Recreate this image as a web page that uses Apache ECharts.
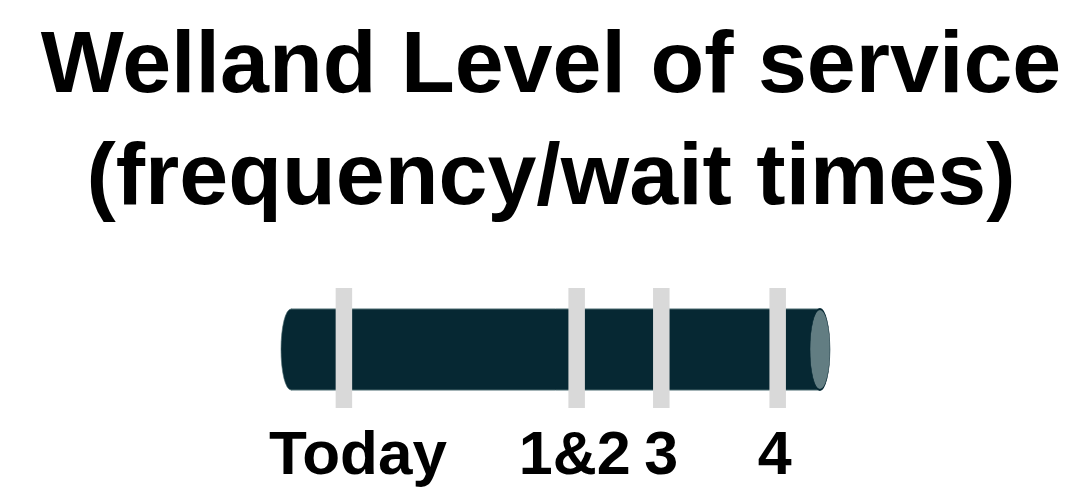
<!DOCTYPE html>
<html>
<head>
<meta charset="utf-8">
<script src="https://cdn.jsdelivr.net/npm/echarts@6/dist/echarts.min.js"></script>
<style>
  html, body { margin: 0; padding: 0; background: #ffffff; }
  #chart { width: 1068px; height: 493px; }
</style>
</head>
<body>
<div id="chart"></div>
<script>
// ---- data ----
const titleLines = ['Welland Level of service', '(frequency/wait times)'];
const phases = ['Today', '1&2', '3', '4'];
const phasePositions = [10, 54, 70, 92];   // position along the timeline (0 = start, 100 = end)
const timelineRange = [0, 100];

// ---- style ----
const FONT = '"Liberation Sans", Arial, sans-serif';
const BAR_COLOR = '#062833';
const CAP_COLOR = '#627d82';
const MARK_COLOR = '#d9d9d9';
const labelShift = { 'Today': 14, '1&2': -2, '3': 0, '4': -3 };
const labelSize = { 'Today': 62, '1&2': 61, '3': 61, '4': 61 };

const chart = echarts.init(document.getElementById('chart'), null, { renderer: 'canvas' });

const option = {
  backgroundColor: '#ffffff',
  animation: false,
  title: {
    text: titleLines.join('\n'),
    left: 546,
    top: 7,
    textAlign: 'center',
    textStyle: {
      fontFamily: FONT,
      fontWeight: 'bold',
      fontSize: 88,
      lineHeight: 112,
      color: '#000000'
    }
  },
  grid: { left: 291, right: 248, top: 288, bottom: 85 },
  xAxis: { type: 'value', min: timelineRange[0], max: timelineRange[1], show: false },
  yAxis: { type: 'value', min: 0, max: 1, show: false },
  series: [
    {
      type: 'custom',
      name: 'timeline',
      silent: true,
      data: [[timelineRange[0], timelineRange[1]]],
      renderItem: function (params, api) {
        const p0 = api.coord([api.value(0), 0.5]);
        const p1 = api.coord([api.value(1), 0.5]);
        const cy = p0[1] + 1.5;
        const hh = 40.5;
        const rx = 10;
        return {
          type: 'group',
          children: [
            { // left rounded end
              type: 'circle',
              x: p0[0], y: cy, scaleX: rx / hh, scaleY: 1,
              shape: { cx: 0, cy: 0, r: hh },
              style: { fill: BAR_COLOR, stroke: '#4a6a70', lineWidth: 1, strokeNoScale: true }
            },
            { // body
              type: 'rect',
              shape: { x: p0[0], y: cy - hh, width: p1[0] - p0[0], height: hh * 2 },
              style: { fill: BAR_COLOR, stroke: null }
            },
            { // top edge
              type: 'line',
              shape: { x1: p0[0], y1: cy - hh, x2: p1[0], y2: cy - hh },
              style: { stroke: '#4a6a70', lineWidth: 1 }
            },
            { // bottom edge
              type: 'line',
              shape: { x1: p0[0], y1: cy + hh, x2: p1[0], y2: cy + hh },
              style: { stroke: '#4a6a70', lineWidth: 1 }
            },
            { // right end cap
              type: 'circle',
              x: p1[0], y: cy, scaleX: rx / hh, scaleY: 1,
              shape: { cx: 0, cy: 0, r: hh },
              style: { fill: CAP_COLOR, stroke: BAR_COLOR, lineWidth: 2, strokeNoScale: true }
            }
          ]
        };
      }
    },
    {
      type: 'custom',
      name: 'phases',
      silent: true,
      data: phasePositions.map(function (v, i) { return [v, i]; }),
      renderItem: function (params, api) {
        const v = api.value(0);
        const name = phases[api.value(1)];
        const top = api.coord([v, 1]);
        const bot = api.coord([v, 0]);
        const w = 16.5;
        return {
          type: 'group',
          children: [
            {
              type: 'rect',
              shape: { x: top[0] - w / 2, y: top[1], width: w, height: bot[1] - top[1] },
              style: { fill: MARK_COLOR }
            },
            {
              type: 'text',
              x: top[0] + (labelShift[name] || 0),
              y: 457,
              style: {
                text: name,
                align: 'center',
                verticalAlign: 'middle',
                fontFamily: FONT,
                fontWeight: 'bold',
                fontSize: labelSize[name] || 61,
                fill: '#000000'
              }
            }
          ]
        };
      }
    }
  ]
};

chart.setOption(option);
</script>
</body>
</html>
